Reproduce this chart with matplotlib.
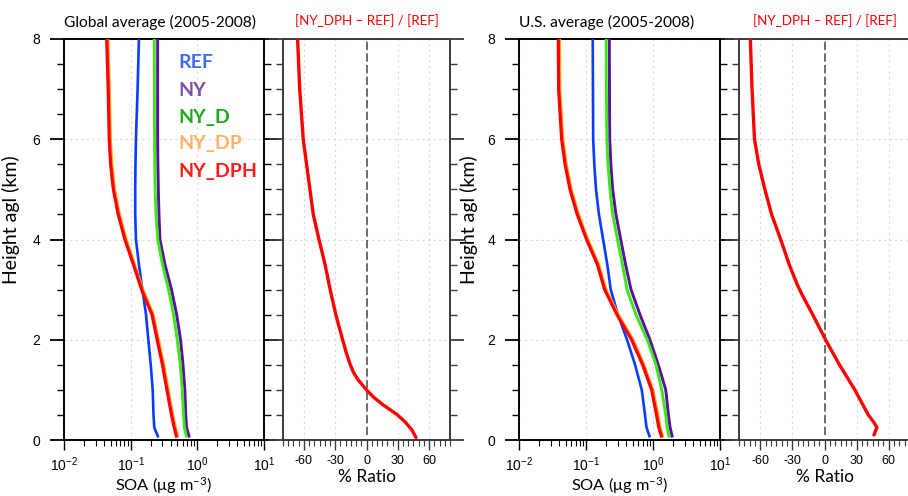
import matplotlib
matplotlib.use("Agg")
import matplotlib.pyplot as plt
from matplotlib.ticker import FixedLocator, MultipleLocator, LogLocator, NullFormatter
import numpy as np

# ---------------- data ----------------
series_names = ["REF", "NY", "NY_D", "NY_DP", "NY_DPH"]

h_glob = [8, 7, 6, 5.5, 5, 4.5, 4, 3.5, 3, 2.5, 2, 1.5, 1, 0.5, 0.25, 0.05]
ref_glob = [0.133, 0.127, 0.120, 0.118, 0.117, 0.117, 0.120, 0.133, 0.150, 0.170, 0.184, 0.200, 0.214, 0.220, 0.226, 0.26]
ny_glob = [0.254, 0.254, 0.254, 0.256, 0.260, 0.266, 0.275, 0.327, 0.41, 0.49, 0.56, 0.61, 0.65, 0.67, 0.69, 0.76]
nyd_glob = [0.226, 0.227, 0.228, 0.230, 0.233, 0.240, 0.255, 0.30, 0.37, 0.44, 0.50, 0.555, 0.595, 0.62, 0.64, 0.69]
nydp_glob = [0.0455, 0.0478, 0.0496, 0.052, 0.0572, 0.0676, 0.0853, 0.114, 0.152, 0.217, 0.26, 0.312, 0.364, 0.426, 0.468, 0.51]
nydph_glob = [0.0437, 0.046, 0.0477, 0.050, 0.055, 0.065, 0.082, 0.110, 0.146, 0.209, 0.25, 0.30, 0.35, 0.41, 0.45, 0.49]

h_rat_glob = [8, 7, 6, 5.5, 5, 4.5, 4, 3.5, 3, 2.5, 2, 1.75, 1.5, 1.35, 1.2, 1.0, 0.85, 0.7, 0.5, 0.35, 0.2, 0.05]
rat_glob = [-66, -64, -60.6, -57.4, -54.2, -51, -45.5, -39.7, -34.8, -29.4, -22.9, -19.5, -15.5, -12.5, -8, 0, 7, 16, 29.7, 37.5, 43.5, 47.4]

h_us = [8, 7, 6, 5.5, 5, 4.5, 4, 3.5, 3, 2.5, 2, 1.5, 1, 0.5, 0.25, 0.05]
ref_us = [0.126, 0.127, 0.128, 0.133, 0.141, 0.156, 0.180, 0.208, 0.234, 0.30, 0.41, 0.54, 0.68, 0.76, 0.80, 0.90]
ny_us = [0.223, 0.224, 0.226, 0.235, 0.250, 0.280, 0.330, 0.390, 0.47, 0.64, 0.90, 1.20, 1.55, 1.70, 1.80, 1.95]
nyd_us = [0.200, 0.201, 0.205, 0.213, 0.228, 0.250, 0.295, 0.350, 0.41, 0.557, 0.82, 1.11, 1.35, 1.55, 1.62, 1.75]
nydp_us = [0.0401, 0.0406, 0.045, 0.0506, 0.060, 0.077, 0.106, 0.154, 0.198, 0.302, 0.50, 0.73, 0.99, 1.18, 1.27, 1.40]
nydph_us = [0.0386, 0.039, 0.0433, 0.0487, 0.0577, 0.074, 0.102, 0.148, 0.19, 0.29, 0.48, 0.70, 0.955, 1.13, 1.22, 1.35]

h_rat_us = [8, 7, 6, 5.5, 5, 4.5, 4, 3.5, 3.1, 2.9, 2.5, 2, 1.5, 1, 0.5, 0.35, 0.25, 0.1]
rat_us = [-69.4, -67.8, -65.5, -61.5, -55.8, -49.5, -41, -33, -25.5, -21, -11, 1, 14, 28.4, 41, 46.3, 49, 46.3]

x_log_ticks = [0.01, 0.1, 1, 10]
x_log_labels = [r"$\mathregular{10^{-2}}$", r"$\mathregular{10^{-1}}$", r"$\mathregular{10^{0}}$", r"$\mathregular{10^{1}}$"]
x_rat_ticks = [-60, -30, 0, 30, 60]
y_ticks = [0, 2, 4, 6, 8]

line_colors = {"REF": "#0a3cff", "NY": "#5a109c", "NY_D": "#3de61a", "NY_DP": "#ffa31a", "NY_DPH": "#ff0000"}
label_colors = {"REF": "#3f6ef2", "NY": "#7a52a6", "NY_D": "#1aaa1a", "NY_DP": "#ffb266", "NY_DPH": "#ff1a1a"}
line_widths = {"REF": 1.9, "NY": 2.1, "NY_D": 2.1, "NY_DP": 2.3, "NY_DPH": 2.3}

TITLE_FONT = "Lato"
TICK_FONT = "Liberation Sans"

W, H = 908, 496
fig = plt.figure(figsize=(W / 100, H / 100), dpi=100)

def frac(l, r, t=39, b=440):
    return [l / W, 1 - b / H, (r - l) / W, (b - t) / H]

def style_common(ax, spine_color):
    ax.set_ylim(0, 8)
    ax.yaxis.set_major_locator(FixedLocator(y_ticks))
    ax.yaxis.set_minor_locator(MultipleLocator(0.5))
    ax.tick_params(axis="y", which="both", direction="out", left=True, right=True, colors=spine_color)
    ax.tick_params(axis="y", which="major", length=10, width=1.3)
    ax.tick_params(axis="y", which="minor", length=5, width=1.0)
    ax.tick_params(axis="x", which="both", direction="out", top=False, bottom=True, colors=spine_color)
    ax.tick_params(axis="x", which="major", length=7, width=1.0, pad=4, labelcolor="black")
    ax.tick_params(axis="x", which="minor", length=4, width=0.8)
    for s in ax.spines.values():
        s.set_color(spine_color)
        s.set_linewidth(1.4)
    ax.grid(True, which="major", color="#d8d8d8", linestyle=(0, (2, 3)), linewidth=0.8)
    ax.set_axisbelow(True)

def soa_panel(rect, h, data, ylabel, title, legend, ylab_x):
    ax = fig.add_axes(rect)
    ax.set_xscale("log")
    ax.set_xlim(0.01, 10)
    style_common(ax, "black")
    ax.xaxis.set_major_locator(FixedLocator(x_log_ticks))
    ax.set_xticklabels(x_log_labels, fontfamily=TICK_FONT, fontsize=10)
    ax.xaxis.set_minor_locator(LogLocator(base=10, subs=np.arange(2, 10)))
    ax.xaxis.set_minor_formatter(NullFormatter())
    ax.tick_params(axis="y", which="major", labelleft=True, labelsize=10, pad=7, labelcolor="black")
    for lab in ax.get_yticklabels():
        lab.set_fontfamily(TICK_FONT)
    for name in series_names:
        ax.plot(data[name], h, color=line_colors[name], lw=line_widths[name],
                solid_capstyle="butt", zorder=3)
    ax.set_xlabel(r"SOA (μg m$\mathregular{^{-3}}$)", fontfamily=TITLE_FONT, fontsize=11.8, labelpad=1)
    ax.set_ylabel(ylabel, fontfamily=TITLE_FONT, fontsize=14)
    ax.yaxis.set_label_coords(ylab_x, 0.55)
    ax.set_title(title, fontfamily=TITLE_FONT, fontsize=11.2, loc="left", pad=9, x=0.0)
    if legend:
        ys = [63, 90, 117, 144, 172]
        for name, y in zip(series_names, ys):
            fig.text(178 / W, 1 - y / H, name, color=label_colors[name], fontfamily=TITLE_FONT,
                     fontweight="bold", fontsize=14, va="center", ha="left")
    return ax

def ratio_panel(rect, h, vals, title):
    ax = fig.add_axes(rect)
    ax.set_xlim(-80, 80)
    style_common(ax, "#3a3a3a")
    ax.xaxis.set_major_locator(FixedLocator(x_rat_ticks))
    ax.xaxis.set_minor_locator(MultipleLocator(5))
    ax.set_xticklabels([str(t) for t in x_rat_ticks], fontfamily=TICK_FONT, fontsize=9)
    ax.tick_params(axis="y", which="both", labelleft=False)
    ax.xaxis.grid(False)
    for t in x_rat_ticks:
        if t != 0:
            ax.axvline(t, color="#d8d8d8", linestyle=(0, (2, 3)), linewidth=0.8, zorder=0)
    ax.plot([0, 0], [0.1, 8], color="#555555", lw=1.2, linestyle=(0, (5, 2)), zorder=2)
    ax.plot(vals, h, color="#ff0000", lw=2.4, solid_capstyle="round", zorder=3)
    ax.set_xlabel("% Ratio", fontfamily=TITLE_FONT, fontsize=12.5, labelpad=1)
    ax.set_title(title, fontfamily=TITLE_FONT, fontsize=9.6, color="#ff0000", pad=10)
    return ax

glob = {"REF": ref_glob, "NY": ny_glob, "NY_D": nyd_glob, "NY_DP": nydp_glob, "NY_DPH": nydph_glob}
us = {"REF": ref_us, "NY": ny_us, "NY_D": nyd_us, "NY_DP": nydp_us, "NY_DPH": nydph_us}

soa_panel(frac(64, 264), h_glob, glob, "Height agl (km)", "Global average (2005-2008)", True, -0.22)
ratio_panel(frac(283, 450), h_rat_glob, rat_glob, "[NY_DPH – REF] / [REF]")
soa_panel(frac(519, 720), h_us, us, "Height agl (km)", "U.S. average (2005-2008)", False, -0.205)
ratio_panel(frac(739, 910), h_rat_us, rat_us, "[NY_DPH – REF] / [REF]")

fig.savefig("out.png", dpi=100)
